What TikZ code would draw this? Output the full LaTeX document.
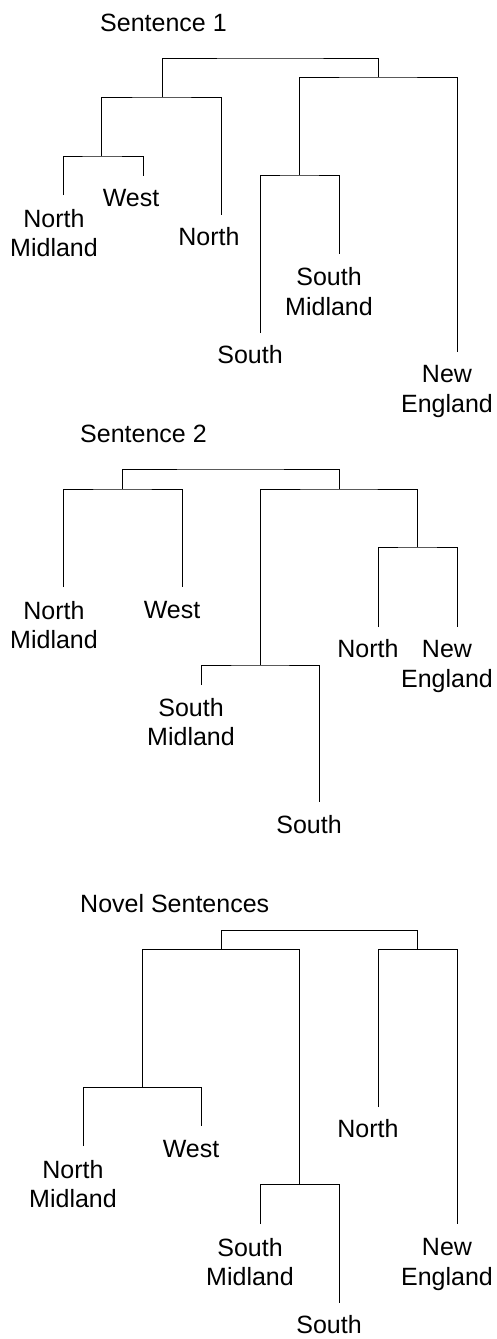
\documentclass[tikz,border=0pt]{standalone}
\usepackage{fontspec}
\setmainfont{Liberation Sans}
\begin{document}
\begin{tikzpicture}[x=1pt,y=-1pt,
  lbl/.style={font=\fontsize{25}{29.5}\selectfont, align=center, inner sep=0pt},
  ttl/.style={font=\fontsize{25}{29.5}\selectfont, anchor=west, inner sep=0pt},
  tr/.style={line width=0.9pt, line join=miter}]
\useasboundingbox (0,0) rectangle (497,1339);

% ---------------- Sentence 1 ----------------
\node[ttl] (t1) at (100,22.5) {Sentence 1};
\coordinate (a-root) at (270,58);
\coordinate (a-l)    at (162,97);
\coordinate (a-nmw)  at (101,156);
\coordinate (a-r)    at (378,77);
\coordinate (a-ssm)  at (299,175);
\coordinate (a-nmE)  at (63,195);
\coordinate (a-wE)   at (143,176);
\coordinate (a-nE)   at (221,215);
\coordinate (a-sE)   at (260,333);
\coordinate (a-smE)  at (339,254);
\coordinate (a-neE)  at (457,352);
\draw[tr] (a-l) |- (a-root) -| (a-r);
\draw[tr] (a-nmw) |- (a-l) -| (a-nE);
\draw[tr] (a-nmE) |- (a-nmw) -| (a-wE);
\draw[tr] (a-ssm) |- (a-r) -| (a-neE);
\draw[tr] (a-sE) |- (a-ssm) -| (a-smE);
\node[lbl] (a-nm) at (54,233) {North\\Midland};
\node[lbl] (a-w)  at (131,198) {West};
\node[lbl] (a-n)  at (209,237) {North};
\node[lbl] (a-sm) at (329,291.5) {South\\Midland};
\node[lbl] (a-s)  at (250,355) {South};
\node[lbl] (a-ne) at (447,391.5) {New\\England};

% ---------------- Sentence 2 ----------------
\node[ttl] (t2) at (80,434) {Sentence 2};
\coordinate (b-root) at (230,469);
\coordinate (b-l)    at (122,489);
\coordinate (b-r)    at (339,489);
\coordinate (b-ssm)  at (260,665);
\coordinate (b-nne)  at (417,547);
\coordinate (b-nmE)  at (63,587);
\coordinate (b-wE)   at (182,587);
\coordinate (b-smE)  at (201,685);
\coordinate (b-sE)   at (319,802);
\coordinate (b-nE)   at (378,627);
\coordinate (b-neE)  at (457,627);
\draw[tr] (b-l) |- (b-root) -| (b-r);
\draw[tr] (b-nmE) |- (b-l) -| (b-wE);
\draw[tr] (b-ssm) |- (b-r) -| (b-nne);
\draw[tr] (b-smE) |- (b-ssm) -| (b-sE);
\draw[tr] (b-nE) |- (b-nne) -| (b-neE);
\node[lbl] (b-nm) at (54,625) {North\\Midland};
\node[lbl] (b-w)  at (172,610) {West};
\node[lbl] (b-n)  at (368,649) {North};
\node[lbl] (b-ne) at (447,666.5) {New\\England};
\node[lbl] (b-sm) at (191,722) {South\\Midland};
\node[lbl] (b-s)  at (309,825) {South};

% ---------------- Novel Sentences ----------------
\node[ttl] (t3) at (80,904) {Novel Sentences};
\coordinate (c-root) at (320,930);
\coordinate (c-l)    at (221,949);
\coordinate (c-r)    at (417,949);
\coordinate (c-nmw)  at (142,1087);
\coordinate (c-ssm)  at (299,1184);
\coordinate (c-nmE)  at (83,1146);
\coordinate (c-wE)   at (201,1126);
\coordinate (c-smE)  at (260,1224);
\coordinate (c-sE)   at (339,1303);
\coordinate (c-nE)   at (378,1107);
\coordinate (c-neE)  at (457,1224);
\draw[tr] (c-l) |- (c-root) -| (c-r);
\draw[tr] (c-nmw) |- (c-l) -| (c-ssm);
\draw[tr] (c-nmE) |- (c-nmw) -| (c-wE);
\draw[tr] (c-smE) |- (c-ssm) -| (c-sE);
\draw[tr] (c-nE) |- (c-r) -| (c-neE);
\node[lbl] (c-nm) at (73,1184) {North\\Midland};
\node[lbl] (c-w)  at (191,1149) {West};
\node[lbl] (c-n)  at (368,1129) {North};
\node[lbl] (c-sm) at (250,1262) {South\\Midland};
\node[lbl] (c-s)  at (329,1325) {South};
\node[lbl] (c-ne) at (447,1264.5) {New\\England};
\end{tikzpicture}
\end{document}
